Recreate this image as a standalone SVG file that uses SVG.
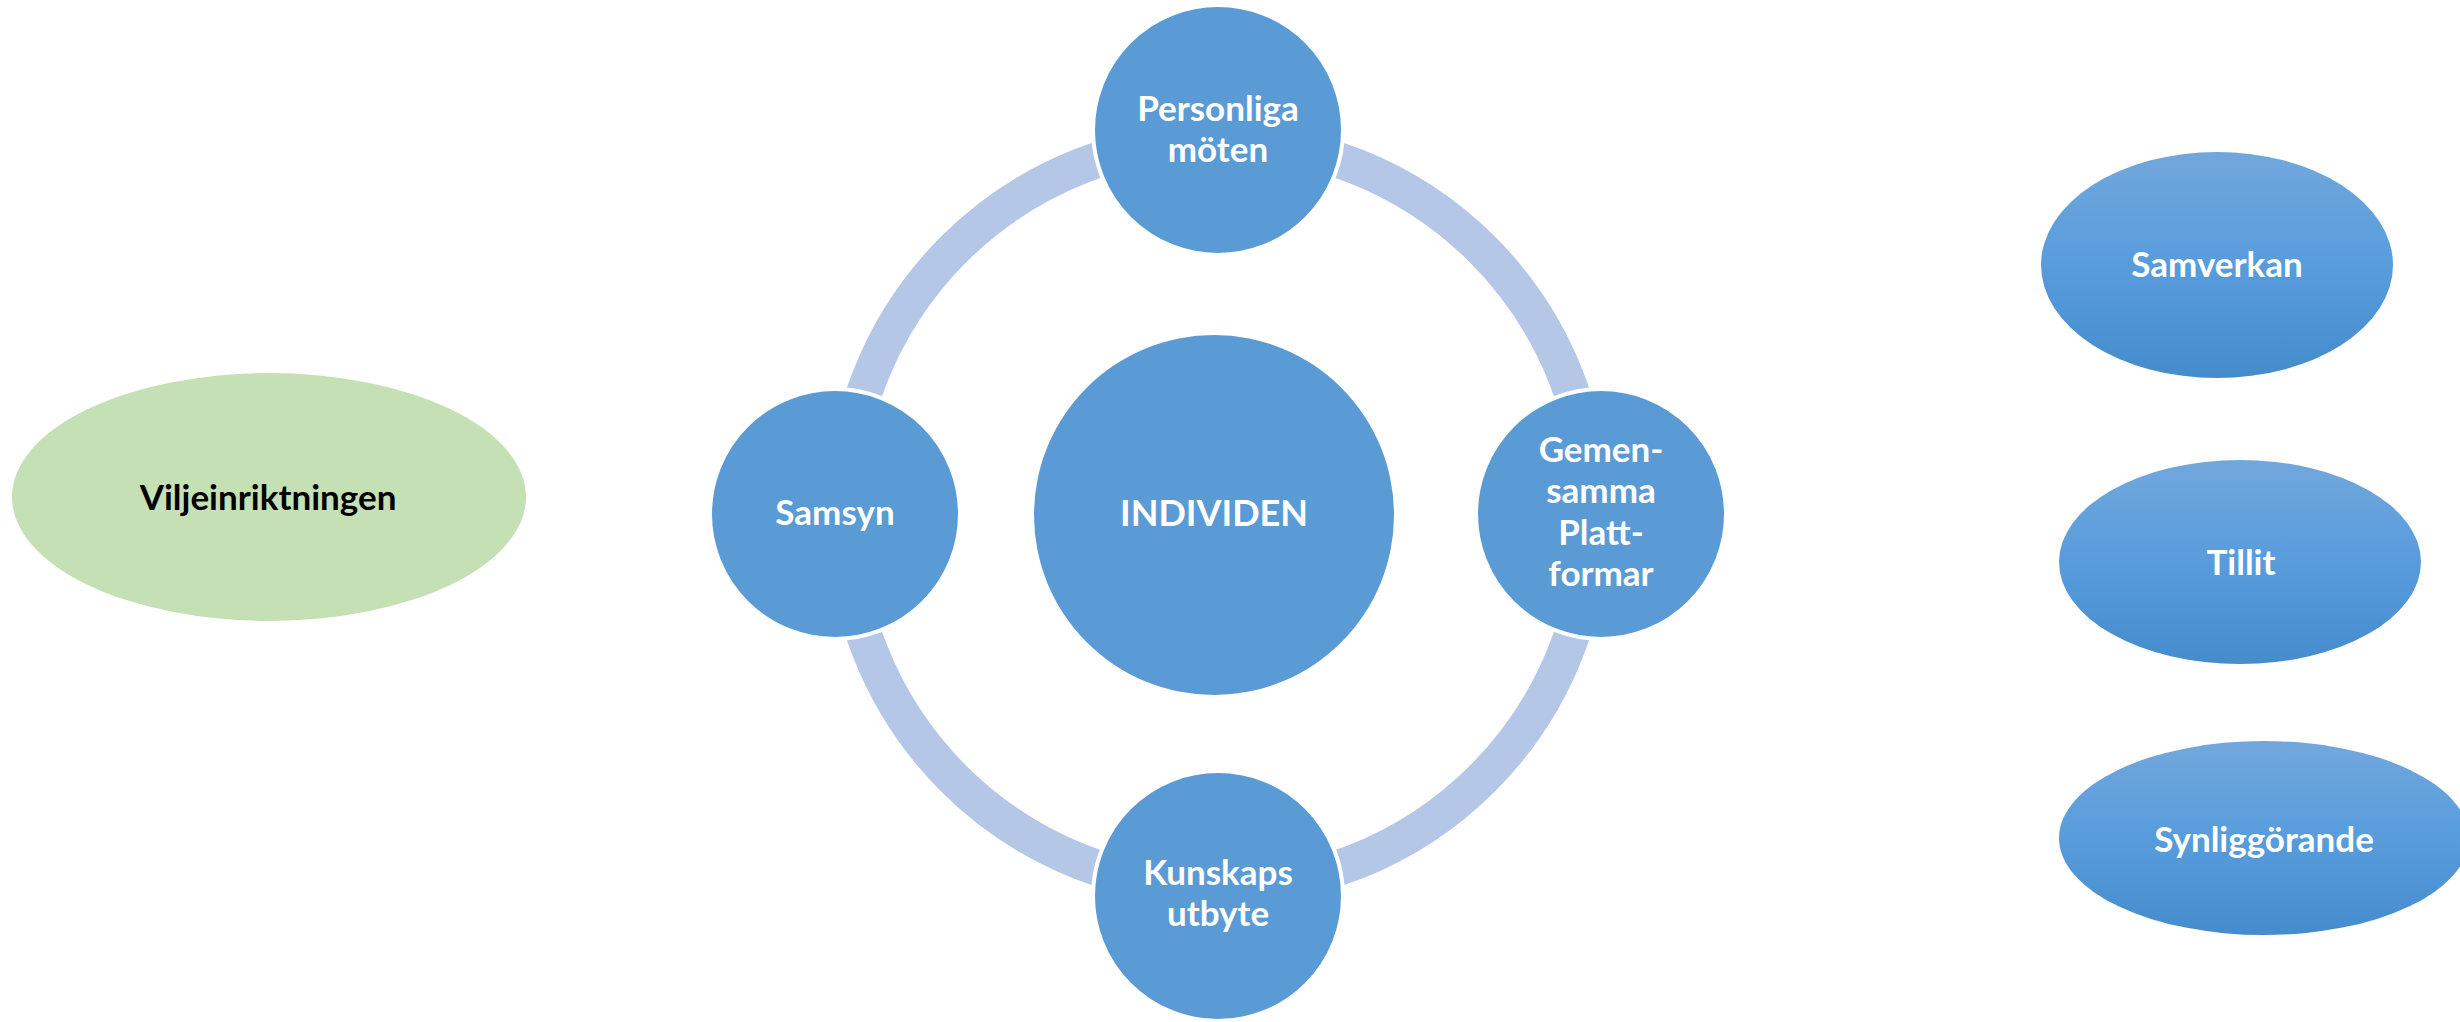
<svg xmlns="http://www.w3.org/2000/svg" width="2460" height="1022" viewBox="0 0 2460 1022">
  <defs>
    <linearGradient id="blueGrad" x1="0" y1="0" x2="0" y2="1">
      <stop offset="0" stop-color="#72A7DC"/>
      <stop offset="0.5" stop-color="#589CDC"/>
      <stop offset="1" stop-color="#458CCC"/>
    </linearGradient>
    <style>
      .node { fill: #5B9BD5; stroke: #FFFFFF; stroke-width: 4; }
      .grad { fill: url(#blueGrad); }
      .green { fill: #C5E0B4; }
      .lbl { font-family: Lato, "Liberation Sans", sans-serif; font-weight: bold; font-size: 35px; fill: #FFFFFF; text-anchor: middle; }
      .big { font-size: 36px; }
      .dark { fill: #000000; }
      .ring { fill: none; stroke: #B4C7E7; stroke-width: 36; }
    </style>
  </defs>
  <rect x="0" y="0" width="2460" height="1022" fill="#FFFFFF"/>

  <g id="connectors">
    <circle class="ring" cx="1218" cy="514" r="374"/>
  </g>

  <g id="node-individen">
    <circle cx="1214" cy="515" r="180" fill="#5B9BD5"/>
    <text class="lbl big" x="1214" y="526">INDIVIDEN</text>
  </g>

  <g id="node-personliga">
    <circle class="node" cx="1218" cy="130" r="125"/>
    <text class="lbl" x="1218" y="121">Personliga</text>
    <text class="lbl" x="1218" y="162">möten</text>
  </g>

  <g id="node-gemensamma">
    <circle class="node" cx="1601" cy="514" r="125"/>
    <text class="lbl" x="1601" y="462">Gemen-</text>
    <text class="lbl" x="1601" y="503">samma</text>
    <text class="lbl" x="1601" y="545">Platt-</text>
    <text class="lbl" x="1601" y="586">formar</text>
  </g>

  <g id="node-kunskaps">
    <circle class="node" cx="1218" cy="896" r="125"/>
    <text class="lbl" x="1218" y="885">Kunskaps</text>
    <text class="lbl" x="1218" y="926">utbyte</text>
  </g>

  <g id="node-samsyn">
    <circle class="node" cx="835" cy="514" r="125"/>
    <text class="lbl" x="835" y="525">Samsyn</text>
  </g>

  <g id="node-viljeinriktningen">
    <ellipse class="green" cx="269" cy="497" rx="257" ry="124"/>
    <text class="lbl dark" x="268" y="510">Viljeinriktningen</text>
  </g>

  <g id="node-samverkan">
    <ellipse class="grad" cx="2217" cy="265" rx="176" ry="113"/>
    <text class="lbl" x="2217" y="277">Samverkan</text>
  </g>

  <g id="node-tillit">
    <ellipse class="grad" cx="2240" cy="562" rx="181" ry="102"/>
    <text class="lbl" x="2241" y="575">Tillit</text>
  </g>

  <g id="node-synliggorande">
    <ellipse class="grad" cx="2264" cy="838" rx="205" ry="97"/>
    <text class="lbl" x="2264" y="852">Synliggörande</text>
  </g>
</svg>
